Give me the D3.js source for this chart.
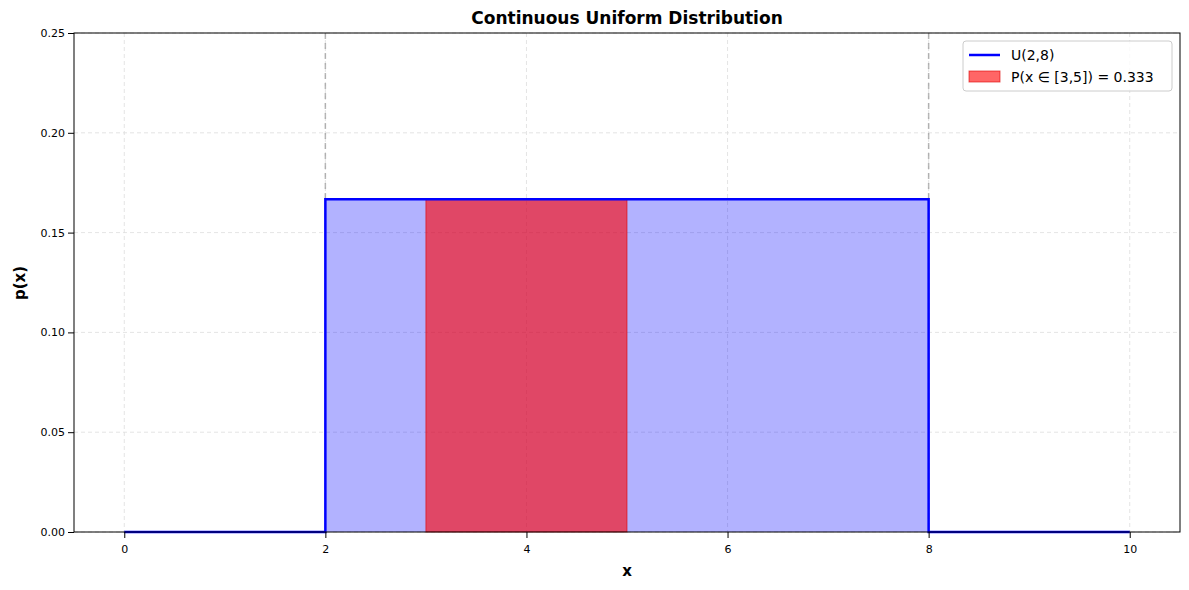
<!DOCTYPE html><html><head><meta charset="utf-8"><script src="https://cdn.jsdelivr.net/npm/d3@7"></script>
<style>body{margin:0;background:#fff}text{font-family:"DejaVu Sans",sans-serif}</style></head><body><svg id="c" width="1189" height="590"></svg><script>
const a=2,b=8,lo=3,hi=5;
const xTicks=[0,2,4,6,8,10];
const yTicks=[0,0.05,0.10,0.15,0.20,0.25];
const pdfX=[0,2,2,8,8,10];
const pdfY=[0,0,1/6,1/6,0,0];
const prob=0.333;
const svg=d3.select("#c");
const L=74,R=1180,T=33,B=532;
const x=d3.scaleLinear().domain([-0.5,10.5]).range([L,R]);
const y=d3.scaleLinear().domain([0,0.25]).range([B,T]);
const g=svg.append("g");
// grid
xTicks.forEach(t=>g.append("line").attr("x1",x(t)).attr("x2",x(t)).attr("y1",T).attr("y2",B).attr("stroke","#ddd").attr("stroke-dasharray","4,3").attr("stroke-width",0.8));
yTicks.forEach(t=>g.append("line").attr("x1",L).attr("x2",R).attr("y1",y(t)).attr("y2",y(t)).attr("stroke","#ddd").attr("stroke-dasharray","4,3").attr("stroke-width",0.8));
// fill
g.append("rect").attr("x",x(a)).attr("y",y(1/6)).attr("width",x(b)-x(a)).attr("height",y(0)-y(1/6)).attr("fill","rgba(0,0,255,0.3)");
g.append("rect").attr("x",x(lo)).attr("y",y(1/6)).attr("width",x(hi)-x(lo)).attr("height",y(0)-y(1/6)).attr("fill","rgba(255,0,0,0.6)").attr("stroke","rgba(220,0,0,0.6)");
[a,b].forEach(v=>g.append("line").attr("x1",x(v)).attr("x2",x(v)).attr("y1",T).attr("y2",B).attr("stroke","#999").attr("stroke-opacity",0.7).attr("stroke-dasharray","6,4").attr("stroke-width",1.5));
g.append("path").attr("d",d3.line().x((d,i)=>x(d)).y((d,i)=>y(pdfY[i]))(pdfX)).attr("fill","none").attr("stroke","#0000ff").attr("stroke-width",2.5);
g.append("rect").attr("x",L).attr("y",T).attr("width",R-L).attr("height",B-T).attr("fill","none").attr("stroke","#000");
const xa=svg.append("g").attr("transform",`translate(0,${B})`).call(d3.axisBottom(x).tickValues(xTicks).tickFormat(d3.format("d")).tickSizeOuter(0));
const ya=svg.append("g").attr("transform",`translate(${L},0)`).call(d3.axisLeft(y).tickValues(yTicks).tickFormat(d3.format(".2f")).tickSizeOuter(0));
[xa,ya].forEach(s=>{s.select(".domain").remove();s.selectAll("text").attr("font-size",11).attr("fill","#000").attr("font-family","DejaVu Sans");s.selectAll("line").attr("stroke","#000");});
xa.selectAll("text").attr("dy","1.1em");
svg.append("text").attr("x",(L+R)/2).attr("y",24).attr("text-anchor","middle").attr("font-size",17).attr("font-weight","bold").text("Continuous Uniform Distribution");
svg.append("text").attr("x",(L+R)/2).attr("y",576).attr("text-anchor","middle").attr("font-size",15).attr("font-weight","bold").text("x");
svg.append("text").attr("transform","translate(25,283) rotate(-90)").attr("text-anchor","middle").attr("font-size",15).attr("font-weight","bold").text("p(x)");
const lg=svg.append("g").attr("transform","translate(963,41)");
lg.append("rect").attr("width",209).attr("height",50).attr("rx",3).attr("fill","#fff").attr("fill-opacity",0.8).attr("stroke","#ccc");
lg.append("line").attr("x1",6).attr("x2",37).attr("y1",14).attr("y2",14).attr("stroke","#0000ff").attr("stroke-width",2.5);
lg.append("rect").attr("x",6).attr("y",30).attr("width",31).attr("height",11).attr("fill","rgba(255,0,0,0.6)").attr("stroke","rgba(220,0,0,0.6)");
lg.append("text").attr("x",48).attr("y",19).attr("font-size",14).text("U(2,8)");
lg.append("text").attr("x",48).attr("y",41).attr("font-size",14).text(`P(x ∈ [${lo},${hi}]) = ${prob}`);
</script></body></html>
